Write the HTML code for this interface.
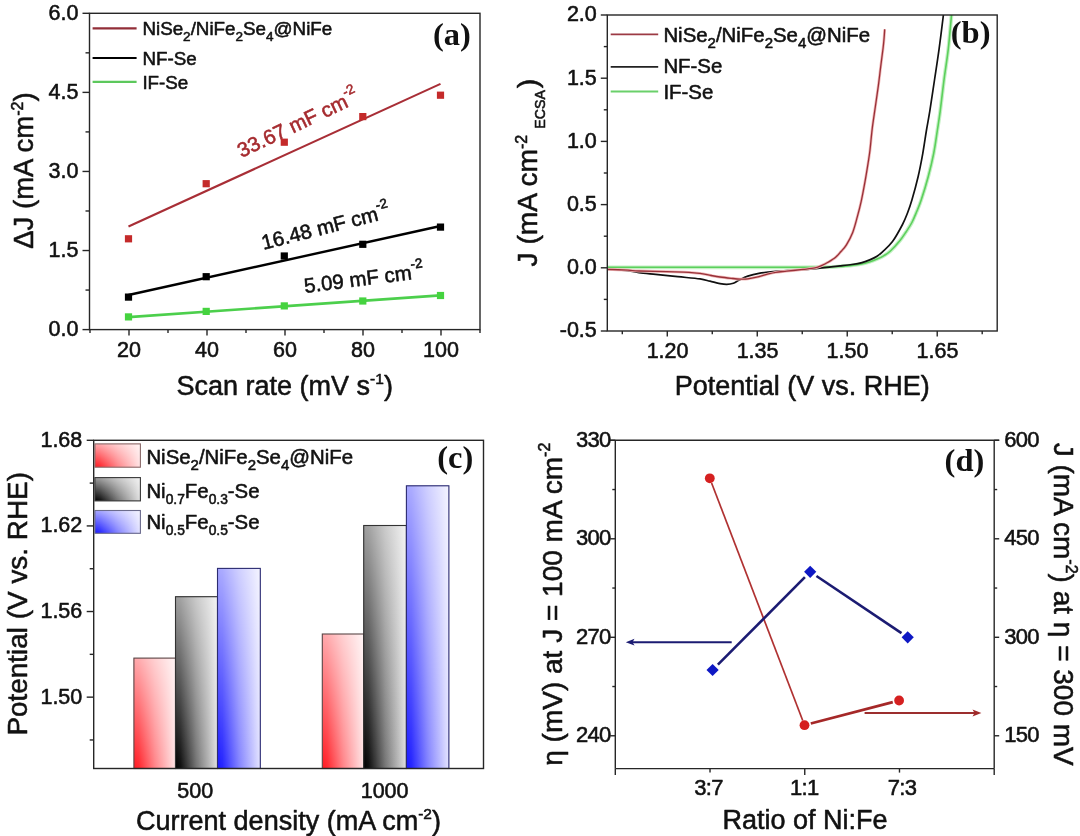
<!DOCTYPE html>
<html><head><meta charset="utf-8"><title>Figure</title>
<style>
html,body{margin:0;padding:0;background:#fff;}
body{width:1080px;height:836px;overflow:hidden;}
svg{display:block;}
text{stroke-width:0.55px;paint-order:stroke;stroke-linejoin:round;}
</style></head>
<body>
<svg width="1080" height="836" viewBox="0 0 1080 836">
<rect x="0" y="0" width="1080" height="836" fill="#fff"/>
<line x1="129.00" y1="329.60" x2="129.00" y2="335.60" stroke="#262626" stroke-width="1.4" />
<line x1="207.00" y1="329.60" x2="207.00" y2="335.60" stroke="#262626" stroke-width="1.4" />
<line x1="285.00" y1="329.60" x2="285.00" y2="335.60" stroke="#262626" stroke-width="1.4" />
<line x1="363.00" y1="329.60" x2="363.00" y2="335.60" stroke="#262626" stroke-width="1.4" />
<line x1="441.00" y1="329.60" x2="441.00" y2="335.60" stroke="#262626" stroke-width="1.4" />
<line x1="90.00" y1="329.60" x2="90.00" y2="333.10" stroke="#262626" stroke-width="1.4" />
<line x1="168.00" y1="329.60" x2="168.00" y2="333.10" stroke="#262626" stroke-width="1.4" />
<line x1="246.00" y1="329.60" x2="246.00" y2="333.10" stroke="#262626" stroke-width="1.4" />
<line x1="324.00" y1="329.60" x2="324.00" y2="333.10" stroke="#262626" stroke-width="1.4" />
<line x1="402.00" y1="329.60" x2="402.00" y2="333.10" stroke="#262626" stroke-width="1.4" />
<line x1="480.00" y1="329.60" x2="480.00" y2="333.10" stroke="#262626" stroke-width="1.4" />
<line x1="82.50" y1="329.60" x2="89.50" y2="329.60" stroke="#262626" stroke-width="1.4" />
<line x1="82.50" y1="250.53" x2="89.50" y2="250.53" stroke="#262626" stroke-width="1.4" />
<line x1="82.50" y1="171.45" x2="89.50" y2="171.45" stroke="#262626" stroke-width="1.4" />
<line x1="82.50" y1="92.38" x2="89.50" y2="92.38" stroke="#262626" stroke-width="1.4" />
<line x1="82.50" y1="13.30" x2="89.50" y2="13.30" stroke="#262626" stroke-width="1.4" />
<line x1="85.50" y1="290.06" x2="89.50" y2="290.06" stroke="#262626" stroke-width="1.4" />
<line x1="85.50" y1="210.99" x2="89.50" y2="210.99" stroke="#262626" stroke-width="1.4" />
<line x1="85.50" y1="131.91" x2="89.50" y2="131.91" stroke="#262626" stroke-width="1.4" />
<line x1="85.50" y1="52.84" x2="89.50" y2="52.84" stroke="#262626" stroke-width="1.4" />
<rect x="89.50" y="13.30" width="390.50" height="316.30" fill="none" stroke="#262626" stroke-width="1.4" />
<text x="129.00" y="356.50" font-size="21.5" text-anchor="middle" fill="#111" stroke="#111" font-family="'Liberation Sans', Arial, sans-serif" font-weight="normal" >20</text>
<text x="207.00" y="356.50" font-size="21.5" text-anchor="middle" fill="#111" stroke="#111" font-family="'Liberation Sans', Arial, sans-serif" font-weight="normal" >40</text>
<text x="285.00" y="356.50" font-size="21.5" text-anchor="middle" fill="#111" stroke="#111" font-family="'Liberation Sans', Arial, sans-serif" font-weight="normal" >60</text>
<text x="363.00" y="356.50" font-size="21.5" text-anchor="middle" fill="#111" stroke="#111" font-family="'Liberation Sans', Arial, sans-serif" font-weight="normal" >80</text>
<text x="441.00" y="356.50" font-size="21.5" text-anchor="middle" fill="#111" stroke="#111" font-family="'Liberation Sans', Arial, sans-serif" font-weight="normal" >100</text>
<text x="78.50" y="336.20" font-size="21.5" text-anchor="end" fill="#111" stroke="#111" font-family="'Liberation Sans', Arial, sans-serif" font-weight="normal" >0.0</text>
<text x="78.50" y="257.13" font-size="21.5" text-anchor="end" fill="#111" stroke="#111" font-family="'Liberation Sans', Arial, sans-serif" font-weight="normal" >1.5</text>
<text x="78.50" y="178.05" font-size="21.5" text-anchor="end" fill="#111" stroke="#111" font-family="'Liberation Sans', Arial, sans-serif" font-weight="normal" >3.0</text>
<text x="78.50" y="98.97" font-size="21.5" text-anchor="end" fill="#111" stroke="#111" font-family="'Liberation Sans', Arial, sans-serif" font-weight="normal" >4.5</text>
<text x="78.50" y="19.90" font-size="21.5" text-anchor="end" fill="#111" stroke="#111" font-family="'Liberation Sans', Arial, sans-serif" font-weight="normal" >6.0</text>
<text x="284.70" y="395.20" font-size="27" text-anchor="middle" fill="#111" stroke="#111" font-family="'Liberation Sans', Arial, sans-serif" font-weight="normal" >Scan rate (mV s<tspan font-size="15.5" dy="-11">-1</tspan><tspan font-size="27" dy="11">)</tspan></text>
<text transform="translate(33.2,170.6) rotate(-90)" x="0" y="0" font-size="27.5" text-anchor="middle" fill="#111" stroke="#111" font-family="'Liberation Sans', Arial, sans-serif">ΔJ (mA cm<tspan font-size="16" dy="-10">-2</tspan><tspan font-size="27.5" dy="10">)</tspan></text>
<line x1="92.60" y1="28.40" x2="136.60" y2="28.40" stroke="#922e38" stroke-width="2.2" />
<line x1="92.60" y1="58.00" x2="136.60" y2="58.00" stroke="#000" stroke-width="2.2" />
<line x1="92.60" y1="81.80" x2="136.60" y2="81.80" stroke="#5cc85c" stroke-width="2.2" />
<text x="142.40" y="35.30" font-size="18.8" text-anchor="start" fill="#111" stroke="#111" font-family="'Liberation Sans', Arial, sans-serif" font-weight="normal" >NiSe<tspan font-size="13.5" dy="6">2</tspan><tspan font-size="18.8" dy="-6">/NiFe</tspan><tspan font-size="13.5" dy="6">2</tspan><tspan font-size="18.8" dy="-6">Se</tspan><tspan font-size="13.5" dy="6">4</tspan><tspan font-size="18.8" dy="-6">@NiFe</tspan></text>
<text x="142.40" y="64.50" font-size="18.8" text-anchor="start" fill="#111" stroke="#111" font-family="'Liberation Sans', Arial, sans-serif" font-weight="normal" >NF-Se</text>
<text x="142.40" y="88.50" font-size="18.8" text-anchor="start" fill="#111" stroke="#111" font-family="'Liberation Sans', Arial, sans-serif" font-weight="normal" >IF-Se</text>
<text x="433.00" y="44.80" font-size="32.5" text-anchor="start" fill="#111" stroke="#111" font-family="'Liberation Serif', 'Times New Roman', serif" font-weight="bold" style="stroke-width:0">(a)</text>
<line x1="128.50" y1="226.50" x2="440.50" y2="83.90" stroke="#a82e36" stroke-width="2.1" />
<line x1="128.50" y1="295.00" x2="440.50" y2="226.00" stroke="#000" stroke-width="2.4" />
<line x1="128.50" y1="317.20" x2="440.50" y2="295.30" stroke="#4ccf4c" stroke-width="2.7" />
<rect x="124.90" y="235.20" width="7.20" height="7.20" fill="#c42a2a" stroke="none" stroke-width="0" />
<rect x="202.60" y="180.10" width="7.20" height="7.20" fill="#c42a2a" stroke="none" stroke-width="0" />
<rect x="280.70" y="138.60" width="7.20" height="7.20" fill="#c42a2a" stroke="none" stroke-width="0" />
<rect x="359.20" y="113.00" width="7.20" height="7.20" fill="#c42a2a" stroke="none" stroke-width="0" />
<rect x="436.90" y="91.60" width="7.20" height="7.20" fill="#c42a2a" stroke="none" stroke-width="0" />
<rect x="124.90" y="293.50" width="7.20" height="7.20" fill="#000" stroke="none" stroke-width="0" />
<rect x="202.60" y="273.10" width="7.20" height="7.20" fill="#000" stroke="none" stroke-width="0" />
<rect x="280.70" y="252.40" width="7.20" height="7.20" fill="#000" stroke="none" stroke-width="0" />
<rect x="359.20" y="240.70" width="7.20" height="7.20" fill="#000" stroke="none" stroke-width="0" />
<rect x="436.90" y="223.50" width="7.20" height="7.20" fill="#000" stroke="none" stroke-width="0" />
<rect x="124.90" y="313.30" width="7.20" height="7.20" fill="#45d33f" stroke="none" stroke-width="0" />
<rect x="202.60" y="307.80" width="7.20" height="7.20" fill="#45d33f" stroke="none" stroke-width="0" />
<rect x="280.70" y="302.30" width="7.20" height="7.20" fill="#45d33f" stroke="none" stroke-width="0" />
<rect x="359.20" y="297.40" width="7.20" height="7.20" fill="#45d33f" stroke="none" stroke-width="0" />
<rect x="436.90" y="291.90" width="7.20" height="7.20" fill="#45d33f" stroke="none" stroke-width="0" />
<text transform="translate(241.5,158) rotate(-25.5)" font-size="20.5" fill="#a52a2e" stroke="#a52a2e" font-family="'Liberation Sans', Arial, sans-serif">33.67 mF cm<tspan font-size="13.5" dy="-10.5">-2</tspan></text>
<text transform="translate(263.4,249.8) rotate(-14.3)" font-size="20.5" fill="#111" stroke="#111" font-family="'Liberation Sans', Arial, sans-serif">16.48 mF cm<tspan font-size="13.5" dy="-10.5">-2</tspan></text>
<text transform="translate(305,293) rotate(-7.3)" font-size="20.5" fill="#111" stroke="#111" font-family="'Liberation Sans', Arial, sans-serif">5.09 mF cm<tspan font-size="13.5" dy="-10.5">-2</tspan></text>
<line x1="667.28" y1="331.00" x2="667.28" y2="336.50" stroke="#262626" stroke-width="1.4" />
<line x1="757.26" y1="331.00" x2="757.26" y2="336.50" stroke="#262626" stroke-width="1.4" />
<line x1="847.24" y1="331.00" x2="847.24" y2="336.50" stroke="#262626" stroke-width="1.4" />
<line x1="937.22" y1="331.00" x2="937.22" y2="336.50" stroke="#262626" stroke-width="1.4" />
<line x1="622.30" y1="331.00" x2="622.30" y2="334.20" stroke="#262626" stroke-width="1.4" />
<line x1="712.27" y1="331.00" x2="712.27" y2="334.20" stroke="#262626" stroke-width="1.4" />
<line x1="802.25" y1="331.00" x2="802.25" y2="334.20" stroke="#262626" stroke-width="1.4" />
<line x1="892.23" y1="331.00" x2="892.23" y2="334.20" stroke="#262626" stroke-width="1.4" />
<line x1="982.20" y1="331.00" x2="982.20" y2="334.20" stroke="#262626" stroke-width="1.4" />
<line x1="600.80" y1="331.00" x2="607.30" y2="331.00" stroke="#262626" stroke-width="1.4" />
<line x1="600.80" y1="267.80" x2="607.30" y2="267.80" stroke="#262626" stroke-width="1.4" />
<line x1="600.80" y1="204.60" x2="607.30" y2="204.60" stroke="#262626" stroke-width="1.4" />
<line x1="600.80" y1="141.40" x2="607.30" y2="141.40" stroke="#262626" stroke-width="1.4" />
<line x1="600.80" y1="78.20" x2="607.30" y2="78.20" stroke="#262626" stroke-width="1.4" />
<line x1="600.80" y1="15.00" x2="607.30" y2="15.00" stroke="#262626" stroke-width="1.4" />
<line x1="603.80" y1="299.40" x2="607.30" y2="299.40" stroke="#262626" stroke-width="1.4" />
<line x1="603.80" y1="236.20" x2="607.30" y2="236.20" stroke="#262626" stroke-width="1.4" />
<line x1="603.80" y1="173.00" x2="607.30" y2="173.00" stroke="#262626" stroke-width="1.4" />
<line x1="603.80" y1="109.80" x2="607.30" y2="109.80" stroke="#262626" stroke-width="1.4" />
<line x1="603.80" y1="46.60" x2="607.30" y2="46.60" stroke="#262626" stroke-width="1.4" />
<text x="667.58" y="357.80" font-size="21.5" text-anchor="middle" fill="#111" stroke="#111" font-family="'Liberation Sans', Arial, sans-serif" font-weight="normal" >1.20</text>
<text x="757.56" y="357.80" font-size="21.5" text-anchor="middle" fill="#111" stroke="#111" font-family="'Liberation Sans', Arial, sans-serif" font-weight="normal" >1.35</text>
<text x="847.54" y="357.80" font-size="21.5" text-anchor="middle" fill="#111" stroke="#111" font-family="'Liberation Sans', Arial, sans-serif" font-weight="normal" >1.50</text>
<text x="937.52" y="357.80" font-size="21.5" text-anchor="middle" fill="#111" stroke="#111" font-family="'Liberation Sans', Arial, sans-serif" font-weight="normal" >1.65</text>
<text x="596.80" y="337.40" font-size="21.5" text-anchor="end" fill="#111" stroke="#111" font-family="'Liberation Sans', Arial, sans-serif" font-weight="normal" >-0.5</text>
<text x="596.80" y="274.20" font-size="21.5" text-anchor="end" fill="#111" stroke="#111" font-family="'Liberation Sans', Arial, sans-serif" font-weight="normal" >0.0</text>
<text x="596.80" y="211.00" font-size="21.5" text-anchor="end" fill="#111" stroke="#111" font-family="'Liberation Sans', Arial, sans-serif" font-weight="normal" >0.5</text>
<text x="596.80" y="147.80" font-size="21.5" text-anchor="end" fill="#111" stroke="#111" font-family="'Liberation Sans', Arial, sans-serif" font-weight="normal" >1.0</text>
<text x="596.80" y="84.60" font-size="21.5" text-anchor="end" fill="#111" stroke="#111" font-family="'Liberation Sans', Arial, sans-serif" font-weight="normal" >1.5</text>
<text x="596.80" y="21.40" font-size="21.5" text-anchor="end" fill="#111" stroke="#111" font-family="'Liberation Sans', Arial, sans-serif" font-weight="normal" >2.0</text>
<path d="M607.30,267.30 C622.75,267.30 667.88,267.30 700.00,267.30 C732.12,267.30 780.00,267.32 800.00,267.30 C820.00,267.28 814.15,267.28 820.00,267.20 C825.85,267.12 830.10,267.05 835.10,266.80 C840.10,266.55 845.80,266.13 850.00,265.70 C854.20,265.27 856.97,264.87 860.30,264.20 C863.63,263.53 867.22,262.55 870.00,261.70 C872.78,260.85 874.67,260.12 877.00,259.10 C879.33,258.08 881.77,256.95 884.00,255.60 C886.23,254.25 887.73,253.52 890.40,251.00 C893.07,248.48 897.40,243.67 900.00,240.50 C902.60,237.33 904.02,235.00 906.00,232.00 C907.98,229.00 910.15,225.83 911.90,222.50 C913.65,219.17 914.95,215.75 916.50,212.00 C918.05,208.25 919.25,205.88 921.20,200.00 C923.15,194.12 926.12,184.48 928.20,176.70 C930.28,168.92 932.17,161.08 933.70,153.30 C935.23,145.52 936.32,137.02 937.40,130.00 C938.48,122.98 939.10,119.53 940.20,111.20 C941.30,102.87 942.65,90.38 944.00,80.00 C945.35,69.62 947.05,59.73 948.30,48.90 C949.55,38.07 950.97,20.65 951.50,15.00" fill="none" stroke="#c4f0c4" stroke-width="3.8"/>
<path d="M607.30,267.30 C622.75,267.30 667.88,267.30 700.00,267.30 C732.12,267.30 780.00,267.32 800.00,267.30 C820.00,267.28 814.15,267.28 820.00,267.20 C825.85,267.12 830.10,267.05 835.10,266.80 C840.10,266.55 845.80,266.13 850.00,265.70 C854.20,265.27 856.97,264.87 860.30,264.20 C863.63,263.53 867.22,262.55 870.00,261.70 C872.78,260.85 874.67,260.12 877.00,259.10 C879.33,258.08 881.77,256.95 884.00,255.60 C886.23,254.25 887.73,253.52 890.40,251.00 C893.07,248.48 897.40,243.67 900.00,240.50 C902.60,237.33 904.02,235.00 906.00,232.00 C907.98,229.00 910.15,225.83 911.90,222.50 C913.65,219.17 914.95,215.75 916.50,212.00 C918.05,208.25 919.25,205.88 921.20,200.00 C923.15,194.12 926.12,184.48 928.20,176.70 C930.28,168.92 932.17,161.08 933.70,153.30 C935.23,145.52 936.32,137.02 937.40,130.00 C938.48,122.98 939.10,119.53 940.20,111.20 C941.30,102.87 942.65,90.38 944.00,80.00 C945.35,69.62 947.05,59.73 948.30,48.90 C949.55,38.07 950.97,20.65 951.50,15.00" fill="none" stroke="#5cd05c" stroke-width="1.6"/>
<path d="M607.30,269.40 C610.72,269.60 622.53,270.07 627.80,270.60 C633.07,271.13 634.27,271.97 638.90,272.60 C643.53,273.23 649.12,273.72 655.60,274.40 C662.08,275.08 670.40,275.95 677.80,276.70 C685.20,277.45 694.63,278.15 700.00,278.90 C705.37,279.65 706.67,280.42 710.00,281.20 C713.33,281.98 717.22,283.07 720.00,283.60 C722.78,284.13 724.48,284.45 726.70,284.40 C728.92,284.35 731.27,284.00 733.30,283.30 C735.33,282.60 736.48,281.40 738.90,280.20 C741.32,279.00 744.47,277.25 747.80,276.10 C751.13,274.95 754.27,274.08 758.90,273.30 C763.53,272.52 769.12,271.95 775.60,271.40 C782.08,270.85 790.77,270.52 797.80,270.00 C804.83,269.48 812.25,268.83 817.80,268.30 C823.35,267.77 827.40,267.20 831.10,266.80 C834.80,266.40 836.53,266.28 840.00,265.90 C843.47,265.52 848.23,265.05 851.90,264.50 C855.57,263.95 858.93,263.42 862.00,262.60 C865.07,261.78 867.80,260.67 870.30,259.60 C872.80,258.53 874.97,257.50 877.00,256.20 C879.03,254.90 879.92,254.23 882.50,251.80 C885.08,249.37 889.17,246.15 892.50,241.60 C895.83,237.05 900.00,229.27 902.50,224.50 C905.00,219.73 905.93,217.08 907.50,213.00 C909.07,208.92 910.13,206.05 911.90,200.00 C913.67,193.95 916.28,184.48 918.10,176.70 C919.92,168.92 921.40,161.08 922.80,153.30 C924.20,145.52 925.33,137.02 926.50,130.00 C927.67,122.98 928.47,119.53 929.80,111.20 C931.13,102.87 932.95,90.38 934.50,80.00 C936.05,69.62 937.62,59.73 939.10,48.90 C940.58,38.07 942.68,20.65 943.40,15.00" fill="none" stroke="#111" stroke-width="1.7"/>
<path d="M607.30,269.30 C610.72,269.45 622.53,269.92 627.80,270.20 C633.07,270.48 632.42,270.75 638.90,271.00 C645.38,271.25 658.37,271.48 666.70,271.70 C675.03,271.92 683.35,272.02 688.90,272.30 C694.45,272.58 696.30,272.87 700.00,273.40 C703.70,273.93 707.77,274.90 711.10,275.50 C714.43,276.10 716.67,276.53 720.00,277.00 C723.33,277.47 727.77,277.95 731.10,278.30 C734.43,278.65 737.22,279.00 740.00,279.10 C742.78,279.20 745.02,279.22 747.80,278.90 C750.58,278.58 753.55,277.95 756.70,277.20 C759.85,276.45 763.55,275.22 766.70,274.40 C769.85,273.58 772.27,272.85 775.60,272.30 C778.93,271.75 782.08,271.58 786.70,271.10 C791.32,270.62 798.58,269.93 803.30,269.40 C808.02,268.87 811.88,268.57 815.00,267.90 C818.12,267.23 819.83,266.33 822.00,265.40 C824.17,264.47 825.73,263.65 828.00,262.30 C830.27,260.95 833.43,259.10 835.60,257.30 C837.77,255.50 839.20,253.57 841.00,251.50 C842.80,249.43 844.45,248.08 846.40,244.90 C848.35,241.72 850.88,237.07 852.70,232.40 C854.52,227.73 855.88,222.08 857.30,216.90 C858.72,211.72 859.90,207.27 861.20,201.30 C862.50,195.33 863.93,187.58 865.10,181.10 C866.27,174.62 867.38,167.58 868.20,162.40 C869.02,157.22 869.33,155.60 870.00,150.00 C870.67,144.40 871.32,135.97 872.20,128.80 C873.08,121.63 874.27,114.25 875.30,107.00 C876.33,99.75 877.50,92.03 878.40,85.30 C879.30,78.57 879.92,72.82 880.70,66.60 C881.48,60.38 882.53,52.77 883.10,48.00 C883.67,43.23 883.83,41.12 884.10,38.00 C884.37,34.88 884.60,30.75 884.70,29.30" fill="none" stroke="#f0b8b8" stroke-width="2.8"/>
<path d="M607.30,269.30 C610.72,269.45 622.53,269.92 627.80,270.20 C633.07,270.48 632.42,270.75 638.90,271.00 C645.38,271.25 658.37,271.48 666.70,271.70 C675.03,271.92 683.35,272.02 688.90,272.30 C694.45,272.58 696.30,272.87 700.00,273.40 C703.70,273.93 707.77,274.90 711.10,275.50 C714.43,276.10 716.67,276.53 720.00,277.00 C723.33,277.47 727.77,277.95 731.10,278.30 C734.43,278.65 737.22,279.00 740.00,279.10 C742.78,279.20 745.02,279.22 747.80,278.90 C750.58,278.58 753.55,277.95 756.70,277.20 C759.85,276.45 763.55,275.22 766.70,274.40 C769.85,273.58 772.27,272.85 775.60,272.30 C778.93,271.75 782.08,271.58 786.70,271.10 C791.32,270.62 798.58,269.93 803.30,269.40 C808.02,268.87 811.88,268.57 815.00,267.90 C818.12,267.23 819.83,266.33 822.00,265.40 C824.17,264.47 825.73,263.65 828.00,262.30 C830.27,260.95 833.43,259.10 835.60,257.30 C837.77,255.50 839.20,253.57 841.00,251.50 C842.80,249.43 844.45,248.08 846.40,244.90 C848.35,241.72 850.88,237.07 852.70,232.40 C854.52,227.73 855.88,222.08 857.30,216.90 C858.72,211.72 859.90,207.27 861.20,201.30 C862.50,195.33 863.93,187.58 865.10,181.10 C866.27,174.62 867.38,167.58 868.20,162.40 C869.02,157.22 869.33,155.60 870.00,150.00 C870.67,144.40 871.32,135.97 872.20,128.80 C873.08,121.63 874.27,114.25 875.30,107.00 C876.33,99.75 877.50,92.03 878.40,85.30 C879.30,78.57 879.92,72.82 880.70,66.60 C881.48,60.38 882.53,52.77 883.10,48.00 C883.67,43.23 883.83,41.12 884.10,38.00 C884.37,34.88 884.60,30.75 884.70,29.30" fill="none" stroke="#983038" stroke-width="1.3"/>
<rect x="608.3" y="0" width="387.9000000000001" height="14.3" fill="#fff"/>
<rect x="607.30" y="15.00" width="389.90" height="316.00" fill="none" stroke="#262626" stroke-width="1.4" />
<line x1="610.70" y1="34.40" x2="658.20" y2="34.40" stroke="#9c3a44" stroke-width="1.8" />
<line x1="610.70" y1="66.90" x2="658.20" y2="66.90" stroke="#222" stroke-width="1.8" />
<line x1="610.70" y1="91.50" x2="658.20" y2="91.50" stroke="#6ad06a" stroke-width="1.8" />
<text x="663.40" y="42.20" font-size="20.4" text-anchor="start" fill="#111" stroke="#111" font-family="'Liberation Sans', Arial, sans-serif" font-weight="normal" >NiSe<tspan font-size="15" dy="6">2</tspan><tspan font-size="20.4" dy="-6">/NiFe</tspan><tspan font-size="15" dy="6">2</tspan><tspan font-size="20.4" dy="-6">Se</tspan><tspan font-size="15" dy="6">4</tspan><tspan font-size="20.4" dy="-6">@NiFe</tspan></text>
<text x="663.40" y="73.30" font-size="20.4" text-anchor="start" fill="#111" stroke="#111" font-family="'Liberation Sans', Arial, sans-serif" font-weight="normal" >NF-Se</text>
<text x="663.40" y="98.50" font-size="20.4" text-anchor="start" fill="#111" stroke="#111" font-family="'Liberation Sans', Arial, sans-serif" font-weight="normal" >IF-Se</text>
<text x="950.80" y="43.20" font-size="32.5" text-anchor="start" fill="#111" stroke="#111" font-family="'Liberation Serif', 'Times New Roman', serif" font-weight="bold" style="stroke-width:0">(b)</text>
<text x="802.30" y="395.00" font-size="27" text-anchor="middle" fill="#111" stroke="#111" font-family="'Liberation Sans', Arial, sans-serif" font-weight="normal" >Potential (V vs. RHE)</text>
<text transform="translate(537,172.6) rotate(-90)" x="0" y="0" font-size="28.2" text-anchor="middle" fill="#111" stroke="#111" font-family="'Liberation Sans', Arial, sans-serif">J (mA cm<tspan font-size="16" dy="-10">-2</tspan><tspan font-size="14.2" dx="6" dy="18">ECSA</tspan><tspan font-size="28.2" dx="2" dy="-8">)</tspan></text>
<defs>
<linearGradient id="hW" x1="0" y1="0" x2="1" y2="0"><stop offset="0" stop-color="#fff" stop-opacity="0"/><stop offset="0.12" stop-color="#fff" stop-opacity="0.06"/><stop offset="0.5" stop-color="#fff" stop-opacity="0.46"/><stop offset="1" stop-color="#fff" stop-opacity="0.88"/></linearGradient>
<linearGradient id="vW" x1="0" y1="1" x2="0" y2="0"><stop offset="0" stop-color="#fff" stop-opacity="0"/><stop offset="1" stop-color="#fff" stop-opacity="0.62"/></linearGradient>
</defs>
<rect x="133.90" y="658.10" width="41.60" height="110.40" fill="#ff1a22" stroke="none" stroke-width="0" />
<rect x="133.90" y="658.10" width="41.60" height="110.40" fill="url(#hW)" stroke="none" stroke-width="0" />
<rect x="133.90" y="658.10" width="41.60" height="110.40" fill="url(#vW)" stroke="none" stroke-width="0" />
<rect x="133.90" y="658.10" width="41.60" height="110.40" fill="none" stroke="#5a4848" stroke-width="1.1" />
<rect x="175.50" y="596.70" width="42.00" height="171.80" fill="#000000" stroke="none" stroke-width="0" />
<rect x="175.50" y="596.70" width="42.00" height="171.80" fill="url(#hW)" stroke="none" stroke-width="0" />
<rect x="175.50" y="596.70" width="42.00" height="171.80" fill="url(#vW)" stroke="none" stroke-width="0" />
<rect x="175.50" y="596.70" width="42.00" height="171.80" fill="none" stroke="#333" stroke-width="1.1" />
<rect x="217.50" y="568.40" width="42.80" height="200.10" fill="#1818ff" stroke="none" stroke-width="0" />
<rect x="217.50" y="568.40" width="42.80" height="200.10" fill="url(#hW)" stroke="none" stroke-width="0" />
<rect x="217.50" y="568.40" width="42.80" height="200.10" fill="url(#vW)" stroke="none" stroke-width="0" />
<rect x="217.50" y="568.40" width="42.80" height="200.10" fill="none" stroke="#2c2c70" stroke-width="1.1" />
<rect x="322.30" y="634.00" width="41.40" height="134.50" fill="#ff1a22" stroke="none" stroke-width="0" />
<rect x="322.30" y="634.00" width="41.40" height="134.50" fill="url(#hW)" stroke="none" stroke-width="0" />
<rect x="322.30" y="634.00" width="41.40" height="134.50" fill="url(#vW)" stroke="none" stroke-width="0" />
<rect x="322.30" y="634.00" width="41.40" height="134.50" fill="none" stroke="#5a4848" stroke-width="1.1" />
<rect x="363.70" y="525.50" width="42.70" height="243.00" fill="#000000" stroke="none" stroke-width="0" />
<rect x="363.70" y="525.50" width="42.70" height="243.00" fill="url(#hW)" stroke="none" stroke-width="0" />
<rect x="363.70" y="525.50" width="42.70" height="243.00" fill="url(#vW)" stroke="none" stroke-width="0" />
<rect x="363.70" y="525.50" width="42.70" height="243.00" fill="none" stroke="#333" stroke-width="1.1" />
<rect x="406.40" y="485.80" width="42.50" height="282.70" fill="#1818ff" stroke="none" stroke-width="0" />
<rect x="406.40" y="485.80" width="42.50" height="282.70" fill="url(#hW)" stroke="none" stroke-width="0" />
<rect x="406.40" y="485.80" width="42.50" height="282.70" fill="url(#vW)" stroke="none" stroke-width="0" />
<rect x="406.40" y="485.80" width="42.50" height="282.70" fill="none" stroke="#2c2c70" stroke-width="1.1" />
<line x1="86.70" y1="697.15" x2="93.70" y2="697.15" stroke="#262626" stroke-width="1.4" />
<line x1="86.70" y1="611.53" x2="93.70" y2="611.53" stroke="#262626" stroke-width="1.4" />
<line x1="86.70" y1="525.92" x2="93.70" y2="525.92" stroke="#262626" stroke-width="1.4" />
<line x1="86.70" y1="440.30" x2="93.70" y2="440.30" stroke="#262626" stroke-width="1.4" />
<line x1="89.70" y1="739.96" x2="93.70" y2="739.96" stroke="#262626" stroke-width="1.4" />
<line x1="89.70" y1="654.34" x2="93.70" y2="654.34" stroke="#262626" stroke-width="1.4" />
<line x1="89.70" y1="568.73" x2="93.70" y2="568.73" stroke="#262626" stroke-width="1.4" />
<line x1="89.70" y1="483.11" x2="93.70" y2="483.11" stroke="#262626" stroke-width="1.4" />
<rect x="93.70" y="440.30" width="389.80" height="328.20" fill="none" stroke="#262626" stroke-width="1.4" />
<text x="82.30" y="703.65" font-size="21.5" text-anchor="end" fill="#111" stroke="#111" font-family="'Liberation Sans', Arial, sans-serif" font-weight="normal" >1.50</text>
<text x="82.30" y="618.03" font-size="21.5" text-anchor="end" fill="#111" stroke="#111" font-family="'Liberation Sans', Arial, sans-serif" font-weight="normal" >1.56</text>
<text x="82.30" y="532.42" font-size="21.5" text-anchor="end" fill="#111" stroke="#111" font-family="'Liberation Sans', Arial, sans-serif" font-weight="normal" >1.62</text>
<text x="82.30" y="446.80" font-size="21.5" text-anchor="end" fill="#111" stroke="#111" font-family="'Liberation Sans', Arial, sans-serif" font-weight="normal" >1.68</text>
<text x="195.20" y="797.60" font-size="21.5" text-anchor="middle" fill="#111" stroke="#111" font-family="'Liberation Sans', Arial, sans-serif" font-weight="normal" >500</text>
<text x="384.60" y="797.60" font-size="21.5" text-anchor="middle" fill="#111" stroke="#111" font-family="'Liberation Sans', Arial, sans-serif" font-weight="normal" >1000</text>
<rect x="94.90" y="443.90" width="45.50" height="23.30" fill="#ff1a22" stroke="none" stroke-width="0" />
<rect x="94.90" y="443.90" width="45.50" height="23.30" fill="url(#hW)" stroke="none" stroke-width="0" />
<rect x="94.90" y="443.90" width="45.50" height="23.30" fill="url(#vW)" stroke="none" stroke-width="0" />
<rect x="94.90" y="443.90" width="45.50" height="23.30" fill="none" stroke="#8a6c6c" stroke-width="1.1" />
<rect x="94.90" y="477.60" width="45.50" height="23.30" fill="#000000" stroke="none" stroke-width="0" />
<rect x="94.90" y="477.60" width="45.50" height="23.30" fill="url(#hW)" stroke="none" stroke-width="0" />
<rect x="94.90" y="477.60" width="45.50" height="23.30" fill="url(#vW)" stroke="none" stroke-width="0" />
<rect x="94.90" y="477.60" width="45.50" height="23.30" fill="none" stroke="#3a3a3a" stroke-width="1.1" />
<rect x="94.90" y="510.50" width="45.50" height="22.80" fill="#1818ff" stroke="none" stroke-width="0" />
<rect x="94.90" y="510.50" width="45.50" height="22.80" fill="url(#hW)" stroke="none" stroke-width="0" />
<rect x="94.90" y="510.50" width="45.50" height="22.80" fill="url(#vW)" stroke="none" stroke-width="0" />
<rect x="94.90" y="510.50" width="45.50" height="22.80" fill="none" stroke="#6c6c8c" stroke-width="1.1" />
<text x="146.40" y="463.90" font-size="20.4" text-anchor="start" fill="#111" stroke="#111" font-family="'Liberation Sans', Arial, sans-serif" font-weight="normal" >NiSe<tspan font-size="15" dy="6">2</tspan><tspan font-size="20.4" dy="-6">/NiFe</tspan><tspan font-size="15" dy="6">2</tspan><tspan font-size="20.4" dy="-6">Se</tspan><tspan font-size="15" dy="6">4</tspan><tspan font-size="20.4" dy="-6">@NiFe</tspan></text>
<text x="146.40" y="497.60" font-size="20.4" text-anchor="start" fill="#111" stroke="#111" font-family="'Liberation Sans', Arial, sans-serif" font-weight="normal" >Ni<tspan font-size="13.8" dy="6">0.7</tspan><tspan font-size="20.4" dy="-6">Fe</tspan><tspan font-size="13.8" dy="6">0.3</tspan><tspan font-size="20.4" dy="-6">-Se</tspan></text>
<text x="146.40" y="529.40" font-size="20.4" text-anchor="start" fill="#111" stroke="#111" font-family="'Liberation Sans', Arial, sans-serif" font-weight="normal" >Ni<tspan font-size="13.8" dy="6">0.5</tspan><tspan font-size="20.4" dy="-6">Fe</tspan><tspan font-size="13.8" dy="6">0.5</tspan><tspan font-size="20.4" dy="-6">-Se</tspan></text>
<text x="437.30" y="468.20" font-size="32.5" text-anchor="start" fill="#111" stroke="#111" font-family="'Liberation Serif', 'Times New Roman', serif" font-weight="bold" style="stroke-width:0">(c)</text>
<text x="288.50" y="829.80" font-size="27.0" text-anchor="middle" fill="#111" stroke="#111" font-family="'Liberation Sans', Arial, sans-serif" font-weight="normal" >Current density (mA cm<tspan font-size="15.5" dy="-11">-2</tspan><tspan font-size="27.0" dy="11">)</tspan></text>
<text transform="translate(26.9,603.8) rotate(-90)" x="0" y="0" font-size="27.9" text-anchor="middle" fill="#111" stroke="#111" font-family="'Liberation Sans', Arial, sans-serif">Potential (V vs. RHE)</text>
<line x1="615.30" y1="768.60" x2="615.30" y2="775.10" stroke="#262626" stroke-width="1.4" />
<line x1="804.75" y1="768.60" x2="804.75" y2="775.10" stroke="#262626" stroke-width="1.4" />
<line x1="994.20" y1="768.60" x2="994.20" y2="775.10" stroke="#262626" stroke-width="1.4" />
<line x1="710.02" y1="768.60" x2="710.02" y2="772.60" stroke="#262626" stroke-width="1.4" />
<line x1="899.48" y1="768.60" x2="899.48" y2="772.60" stroke="#262626" stroke-width="1.4" />
<line x1="610.30" y1="735.77" x2="615.30" y2="735.77" stroke="#262626" stroke-width="1.4" />
<line x1="610.30" y1="637.28" x2="615.30" y2="637.28" stroke="#262626" stroke-width="1.4" />
<line x1="610.30" y1="538.79" x2="615.30" y2="538.79" stroke="#262626" stroke-width="1.4" />
<line x1="610.30" y1="440.30" x2="615.30" y2="440.30" stroke="#262626" stroke-width="1.4" />
<line x1="612.30" y1="686.52" x2="615.30" y2="686.52" stroke="#262626" stroke-width="1.4" />
<line x1="612.30" y1="588.04" x2="615.30" y2="588.04" stroke="#262626" stroke-width="1.4" />
<line x1="612.30" y1="489.55" x2="615.30" y2="489.55" stroke="#262626" stroke-width="1.4" />
<line x1="994.20" y1="735.77" x2="999.20" y2="735.77" stroke="#262626" stroke-width="1.4" />
<line x1="994.20" y1="637.28" x2="999.20" y2="637.28" stroke="#262626" stroke-width="1.4" />
<line x1="994.20" y1="538.79" x2="999.20" y2="538.79" stroke="#262626" stroke-width="1.4" />
<line x1="994.20" y1="440.30" x2="999.20" y2="440.30" stroke="#262626" stroke-width="1.4" />
<line x1="994.20" y1="686.52" x2="997.20" y2="686.52" stroke="#262626" stroke-width="1.4" />
<line x1="994.20" y1="588.04" x2="997.20" y2="588.04" stroke="#262626" stroke-width="1.4" />
<line x1="994.20" y1="489.55" x2="997.20" y2="489.55" stroke="#262626" stroke-width="1.4" />
<line x1="615.30" y1="440.30" x2="615.30" y2="768.60" stroke="#262626" stroke-width="1.4" />
<line x1="994.20" y1="440.30" x2="994.20" y2="768.60" stroke="#262626" stroke-width="1.4" />
<line x1="610.30" y1="440.30" x2="999.20" y2="440.30" stroke="#262626" stroke-width="1.4" />
<line x1="615.30" y1="768.60" x2="994.20" y2="768.60" stroke="#262626" stroke-width="1.4" />
<text x="610.60" y="742.37" font-size="22" text-anchor="end" fill="#111" stroke="#111" font-family="'Liberation Sans', Arial, sans-serif" font-weight="normal" letter-spacing="-0.7" >240</text>
<text x="610.60" y="643.88" font-size="22" text-anchor="end" fill="#111" stroke="#111" font-family="'Liberation Sans', Arial, sans-serif" font-weight="normal" letter-spacing="-0.7" >270</text>
<text x="610.60" y="545.39" font-size="22" text-anchor="end" fill="#111" stroke="#111" font-family="'Liberation Sans', Arial, sans-serif" font-weight="normal" letter-spacing="-0.7" >300</text>
<text x="610.60" y="446.90" font-size="22" text-anchor="end" fill="#111" stroke="#111" font-family="'Liberation Sans', Arial, sans-serif" font-weight="normal" letter-spacing="-0.7" >330</text>
<text x="1004.30" y="742.37" font-size="22" text-anchor="start" fill="#111" stroke="#111" font-family="'Liberation Sans', Arial, sans-serif" font-weight="normal" letter-spacing="-0.7" >150</text>
<text x="1004.30" y="643.88" font-size="22" text-anchor="start" fill="#111" stroke="#111" font-family="'Liberation Sans', Arial, sans-serif" font-weight="normal" letter-spacing="-0.7" >300</text>
<text x="1004.30" y="545.39" font-size="22" text-anchor="start" fill="#111" stroke="#111" font-family="'Liberation Sans', Arial, sans-serif" font-weight="normal" letter-spacing="-0.7" >450</text>
<text x="1004.30" y="446.90" font-size="22" text-anchor="start" fill="#111" stroke="#111" font-family="'Liberation Sans', Arial, sans-serif" font-weight="normal" letter-spacing="-0.7" >600</text>
<text x="708.52" y="794.80" font-size="22" text-anchor="middle" fill="#111" stroke="#111" font-family="'Liberation Sans', Arial, sans-serif" font-weight="normal" letter-spacing="-0.7" >3:7</text>
<text x="804.25" y="794.80" font-size="22" text-anchor="middle" fill="#111" stroke="#111" font-family="'Liberation Sans', Arial, sans-serif" font-weight="normal" letter-spacing="-0.7" >1:1</text>
<text x="901.98" y="794.80" font-size="22" text-anchor="middle" fill="#111" stroke="#111" font-family="'Liberation Sans', Arial, sans-serif" font-weight="normal" letter-spacing="-0.7" >7:3</text>
<text x="805.00" y="829.30" font-size="27" text-anchor="middle" fill="#111" stroke="#111" font-family="'Liberation Sans', Arial, sans-serif" font-weight="normal" >Ratio of Ni:Fe</text>
<line x1="711.59" y1="482.97" x2="802.71" y2="720.53" stroke="#b03232" stroke-width="1.7" />
<line x1="810.79" y1="723.56" x2="892.81" y2="702.14" stroke="#a52828" stroke-width="2.7" />
<line x1="717.89" y1="664.68" x2="804.91" y2="577.12" stroke="#1b1b72" stroke-width="2.6" />
<line x1="816.43" y1="575.98" x2="901.47" y2="633.12" stroke="#1b1b72" stroke-width="2.6" />
<polygon points="712.6,663.9 718.7,670.0 712.6,676.1 706.5,670.0" fill="#0e18c4"/>
<polygon points="810.2,565.6999999999999 816.3000000000001,571.8 810.2,577.9 804.1,571.8" fill="#0e18c4"/>
<polygon points="907.7,631.1999999999999 913.8000000000001,637.3 907.7,643.4 901.6,637.3" fill="#0e18c4"/>
<circle cx="709.8" cy="478.3" r="4.9" fill="#d52020"/>
<circle cx="804.5" cy="725.2" r="4.9" fill="#d52020"/>
<circle cx="899.1" cy="700.5" r="4.9" fill="#d52020"/>
<line x1="731.70" y1="642.20" x2="632.00" y2="642.20" stroke="#1b1b72" stroke-width="2.0" />
<polygon points="625.8,642.2 634.5,638.8 632.5,642.2 634.5,645.6" fill="#1b1b72"/>
<line x1="864.60" y1="713.00" x2="975.00" y2="713.00" stroke="#9c2e2e" stroke-width="1.8" />
<polygon points="981.4,713.0 972.5,709.6 974.5,713.0 972.5,716.4" fill="#a02a2a"/>
<text x="944.60" y="470.80" font-size="32.5" text-anchor="start" fill="#111" stroke="#111" font-family="'Liberation Serif', 'Times New Roman', serif" font-weight="bold" style="stroke-width:0">(d)</text>
<text transform="translate(562.4,604.2) rotate(-90)" x="0" y="0" font-size="28" text-anchor="middle" fill="#111" stroke="#111" font-family="'Liberation Sans', Arial, sans-serif">η (mV) at J = 100 mA cm<tspan font-size="16" dy="-12">-2</tspan></text>
<text transform="translate(1054.4,604.2) rotate(90)" x="0" y="0" font-size="28" text-anchor="middle" fill="#111" stroke="#111" font-family="'Liberation Sans', Arial, sans-serif">J (mA cm<tspan font-size="16" dy="-12">-2</tspan><tspan font-size="28" dy="12">)</tspan> at η = 300 mV</text>
</svg>
</body></html>
